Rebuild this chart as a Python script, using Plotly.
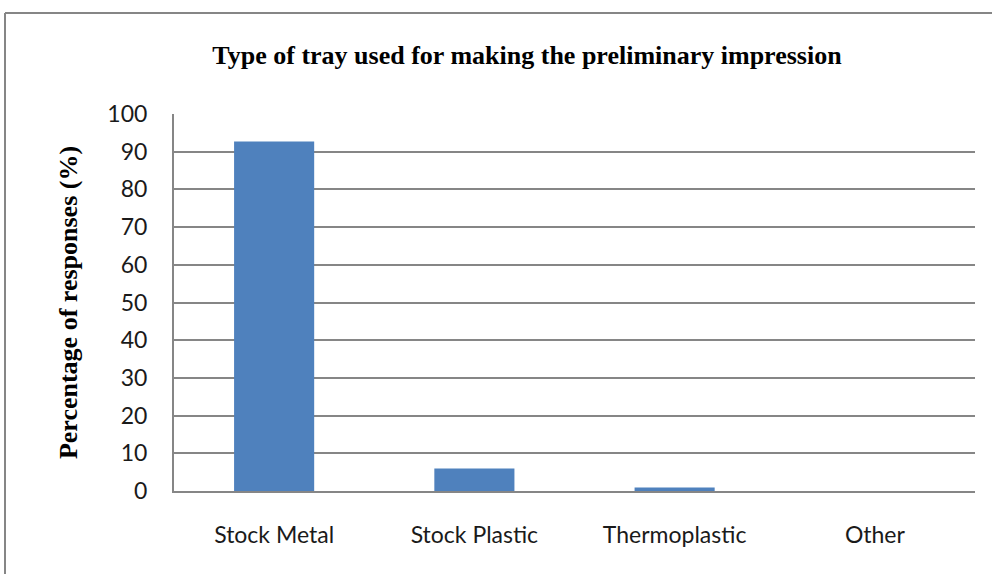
import plotly.graph_objects as go

categories = ["Stock Metal", "Stock Plastic", "Thermoplastic", "Other"]
values = [92.7, 6.0, 0.9, 0.0]
y_ticks = [0, 10, 20, 30, 40, 50, 60, 70, 80, 90, 100]

W, H = 992, 574
L, R, T, B = 174, 17, 114, 83
pw, ph = W - L - R, H - T - B

fig = go.Figure()
fig.add_trace(go.Bar(x=categories, y=values, marker=dict(color="#4F81BD", line=dict(width=0)),
                     width=0.4, showlegend=False))

fig.update_layout(
    width=W, height=H,
    margin=dict(l=L, r=R, t=T, b=B),
    paper_bgcolor="white", plot_bgcolor="white",
    title=dict(text="<b>Type of tray used for making the preliminary impression</b>",
               x=(527 - L) / pw, xref="paper", xanchor="center",
               y=1 - 55 / H, yanchor="middle",
               font=dict(family="Liberation Serif", size=26, color="black")),
    xaxis=dict(showgrid=False, showline=True, linecolor="#868686", linewidth=2,
               ticks="", tickfont=dict(family="Lato", size=23, color="#1a1a1a"),
               range=[-0.5, 3.5]),
    yaxis=dict(range=[0, 100], tickvals=y_ticks, showgrid=True, gridcolor="#868686",
               gridwidth=2, showline=True, linecolor="#868686", linewidth=2,
               zeroline=False, ticks="",
               tickfont=dict(family="Lato", size=23, color="#1a1a1a"),
               title=dict(text="<b>Percentage of responses (%)</b>", standoff=22,
                          font=dict(family="Liberation Serif", size=26, color="black"))),
)
fig.update_xaxes(ticklabelstandoff=22)
fig.update_yaxes(ticklabelstandoff=20)

# outer chart frame
x0 = (5 - L) / pw
y1 = 1 + (T - 13) / ph
fig.add_shape(type="line", xref="paper", yref="paper", x0=x0, x1=x0, y0=-1, y1=y1,
              line=dict(color="#868686", width=2))
fig.add_shape(type="line", xref="paper", yref="paper", x0=x0, x1=2, y0=y1, y1=y1,
              line=dict(color="#868686", width=2))

fig.write_html("out.html")
